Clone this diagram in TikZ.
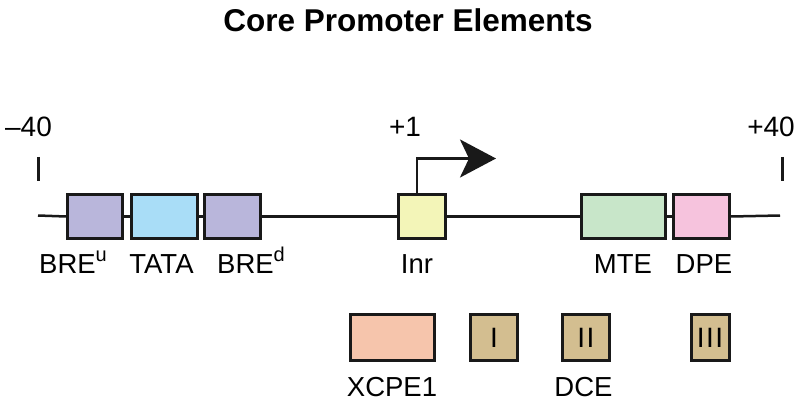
\documentclass[tikz,border=0pt]{standalone}
\usepackage{fontspec}
\setmainfont{Liberation Sans}
\usetikzlibrary{arrows.meta}
\definecolor{brec}{HTML}{B9B6DB}
\definecolor{tatac}{HTML}{A9DDF7}
\definecolor{inrc}{HTML}{F3F5B8}
\definecolor{mtec}{HTML}{C8E6C9}
\definecolor{dpec}{HTML}{F6C3DD}
\definecolor{xcpec}{HTML}{F6C5AC}
\definecolor{dcec}{HTML}{D3BE90}
\newcommand{\supx}[1]{\raisebox{0.42em}{\fontsize{20}{20}\selectfont #1}}
\tikzset{
  elem/.style={draw=black!90, line width=3pt, inner sep=0pt, anchor=north west},
  lbl/.style={font=\fontsize{27.5}{27.5}\selectfont, anchor=base, inner sep=0pt},
  num/.style={font=\fontsize{28}{28}\selectfont, anchor=base, inner sep=0pt},
  rom/.style={font=\fontsize{28}{28}\selectfont},
  dna/.style={line width=2.5pt, black!90},
}
\begin{document}
\begin{tikzpicture}[x=1pt,y=-1pt]
\useasboundingbox (0,0) rectangle (800,406);
% title
\node[anchor=base, inner sep=0pt, font=\fontsize{31.5}{31.5}\selectfont\bfseries] (title) at (408,31.5) {Core Promoter Elements};
% positions
\node[num] (m40) at (28.5,137) {–40};
\node[num] (p1) at (405,137) {+1};
\node[num] (p40) at (771,137) {+40};
\coordinate (tl1) at (38,157);
\coordinate (tl2) at (38,181);
\coordinate (tr1) at (782,157);
\coordinate (tr2) at (782,181);
\draw[line width=3pt, black!90] (tl1) -- (tl2);
\draw[line width=3pt, black!90] (tr1) -- (tr2);
% elements
\node[elem, fill=brec, minimum width=55pt, minimum height=44pt] (breu) at (66,193) {};
\node[elem, fill=tatac, minimum width=66pt, minimum height=44pt] (tata) at (129.5,193) {};
\node[elem, fill=brec, minimum width=56pt, minimum height=44pt] (bred) at (203,193) {};
\node[elem, fill=inrc, minimum width=47pt, minimum height=44pt] (inr) at (396.5,193) {};
\node[elem, fill=mtec, minimum width=84pt, minimum height=44pt] (mte) at (579.5,193) {};
\node[elem, fill=dpec, minimum width=56pt, minimum height=44pt] (dpe) at (672,193) {};
\coordinate (left) at (38,215.5);
\coordinate (right) at (780,215.5);
\draw[dna] (left) -- (breu.west);
\draw[dna] (breu.east) -- (tata.west);
\draw[dna] (tata.east) -- (bred.west);
\draw[dna] (bred.east) -- (inr.west);
\draw[dna] (inr.east) -- (mte.west);
\draw[dna] (mte.east) -- (dpe.west);
\draw[dna] (dpe.east) -- (right);
% transcription start arrow
\coordinate (tip) at (496,158.5);
\draw[line width=2.5pt, black!90, -{Stealth[length=36pt, width=38pt, inset=9pt]}] ([xshift=-4.5pt]inr.north) |- (tip);
% labels
\node[lbl] (lbreu) at (73,273) {BRE\supx{u}};
\node[lbl] (ltata) at (161.5,273) {TATA};
\node[lbl] (lbred) at (251,273) {BRE\supx{d}};
\node[lbl] (linr) at (417,273) {Inr};
\node[lbl] (lmte) at (623,273) {MTE};
\node[lbl] (ldpe) at (704,273) {DPE};
% lower row
\node[elem, fill=xcpec, minimum width=84pt, minimum height=46pt] (xcpe) at (348.5,313) {};
\node[elem, fill=dcec, minimum width=47pt, minimum height=46pt, rom] (d1) at (469,313) {I};
\node[elem, fill=dcec, minimum width=47pt, minimum height=46pt, rom] (d2) at (561,313) {I\hspace{1.5pt}I};
\node[elem, fill=dcec, minimum width=38pt, minimum height=46pt, rom] (d3) at (689.5,313) {I\hspace{1.5pt}I\hspace{1.5pt}I};
\node[lbl] (lxcpe) at (392,396) {XCPE1};
\node[lbl] (ldce) at (583.5,396) {DCE};
\end{tikzpicture}
\end{document}
